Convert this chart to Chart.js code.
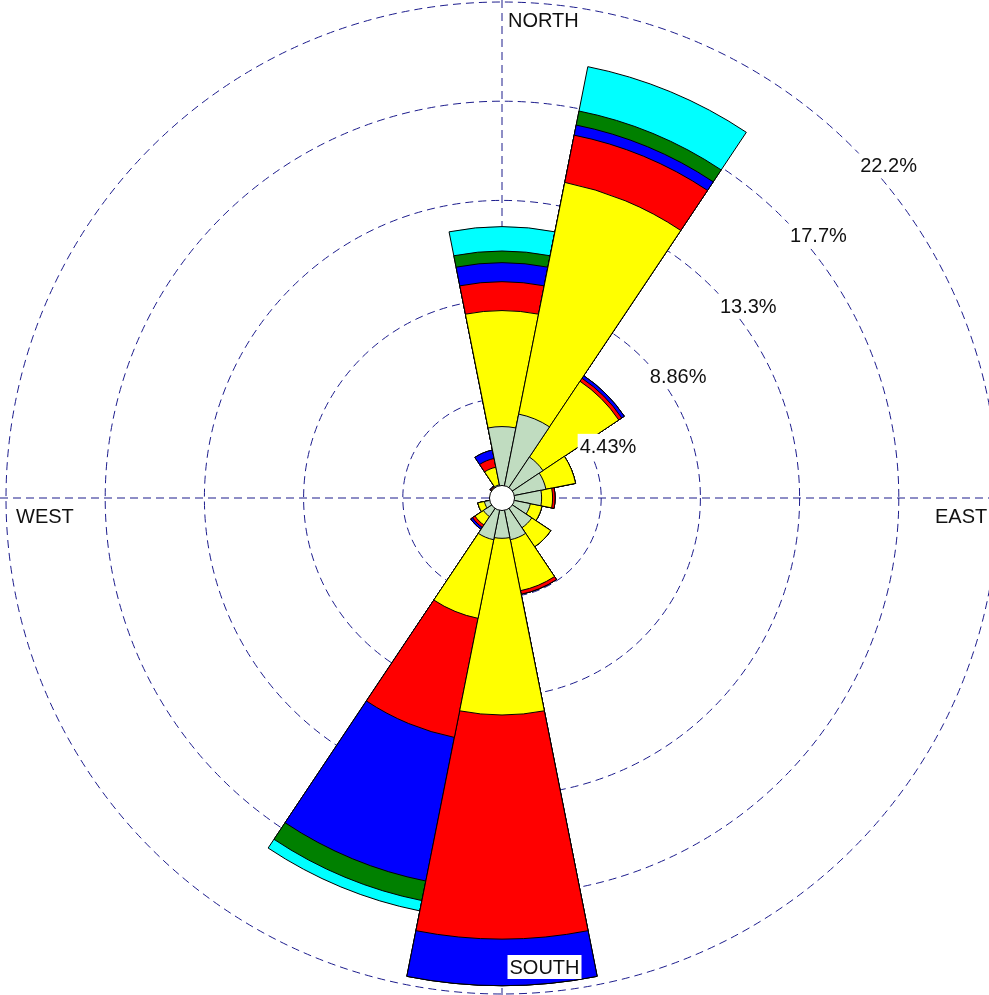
<!DOCTYPE html>
<html>
<head>
<meta charset="utf-8">
<title>Wind rose</title>
<script src="https://cdn.jsdelivr.net/npm/chart.js@4.4.1/dist/chart.umd.min.js"></script>
<style>
  html, body { margin: 0; padding: 0; background: #fff; overflow: hidden; }
  #wrap { position: relative; width: 1004px; height: 996px; }
</style>
</head>
<body>
<div id="wrap"><canvas id="roseChart" width="1004" height="996"></canvas></div>
<script>
// Directions, clockwise from north
const directions = ['N', 'NNE', 'NE', 'ENE', 'E', 'ESE', 'SE', 'SSE',
                    'S', 'SSW', 'SW', 'WSW', 'W', 'WNW', 'NW', 'NNW'];

// Frequency (%) of each speed class per direction (not cumulative)
const speedClass1 = [3.19, 3.82, 2.20, 2.00, 1.77, 1.29, 1.60, 1.90, 1.80, 1.90, 1.00, 0.80, 0.40, 0.40, 0.50, 0.60];
const speedClass2 = [5.18, 10.55, 4.07, 1.35, 0.49, 0.53, 1.02, 2.32, 7.89, 3.58, 0.45, 0.30, 0.05, 0.10, 0.08, 0.80];
const speedClass3 = [1.29, 2.15, 0.16, 0, 0.11, 0, 0, 0.16, 10.01, 5.42, 0.13, 0, 0, 0, 0.04, 0.40];
const speedClass4 = [0.85, 0.46, 0.14, 0, 0, 0, 0, 0, 2.08, 6.54, 0.10, 0, 0, 0, 0.03, 0.38];
const speedClass5 = [0.52, 0.64, 0, 0, 0, 0, 0, 0, 0, 0.89, 0, 0, 0, 0, 0, 0];
const speedClass6 = [1.09, 2.02, 0, 0, 0, 0, 0, 0, 0, 0.47, 0, 0, 0, 0, 0, 0];

const speedClasses = ['Class 1', 'Class 2', 'Class 3', 'Class 4', 'Class 5', 'Class 6'];
const classColors = ['#c0dcc0', '#ffff00', '#ff0000', '#0000ff', '#008000', '#00ffff'];

// Rings and their labels
const ringValues = [0, 4.43, 8.86, 13.29, 17.72, 22.15];
const ringLabels = ['', '4.43%', '8.86%', '13.3%', '17.7%', '22.2%'];
const calmValue = 0.56;

const gridColor = '#1c1c8c';
const labelFont = '20px "Liberation Sans", Arial, sans-serif';

// Stack the classes: each dataset is the running total, drawn from center
function buildDatasets() {
    const series = [speedClass1, speedClass2, speedClass3, speedClass4, speedClass5, speedClass6];
    const running = directions.map(() => 0);
    return series.map((values, k) => {
        const cumulative = values.map((v, i) => {
            running[i] += v;
            return +running[i].toFixed(3);
        });
        return {
            label: speedClasses[k],
            data: cumulative,
            backgroundColor: classColors[k],
            borderColor: '#000000',
            borderWidth: 1
        };
    });
}

// Dashed compass cross behind the petals
const crossPlugin = {
    id: 'compassCross',
    beforeDatasetsDraw(chart) {
        const r = chart.scales.r;
        const ctx = chart.ctx;
        ctx.save();
        ctx.strokeStyle = gridColor;
        ctx.lineWidth = 1;
        ctx.setLineDash([8, 5]);
        ctx.beginPath();
        ctx.moveTo(r.xCenter, 0);
        ctx.lineTo(r.xCenter, chart.height);
        ctx.moveTo(0, r.yCenter);
        ctx.lineTo(chart.width, r.yCenter);
        ctx.stroke();
        ctx.restore();
    }
};

// Calm circle, ring labels and compass labels on top
const labelPlugin = {
    id: 'roseLabels',
    afterDatasetsDraw(chart) {
        const r = chart.scales.r;
        const ctx = chart.ctx;
        const cx = r.xCenter, cy = r.yCenter;
        ctx.save();

        ctx.beginPath();
        ctx.arc(cx, cy, r.getDistanceFromCenterForValue(calmValue), 0, Math.PI * 2);
        ctx.fillStyle = '#ffffff';
        ctx.fill();
        ctx.strokeStyle = '#000000';
        ctx.lineWidth = 1;
        ctx.stroke();

        ctx.font = labelFont;
        ctx.textBaseline = 'alphabetic';
        ctx.textAlign = 'left';
        const boxed = (text, x, y) => {
            const w = ctx.measureText(text).width;
            ctx.fillStyle = '#ffffff';
            ctx.fillRect(x - 2, y - 19, w + 4, 24);
            ctx.fillStyle = '#111111';
            ctx.fillText(text, x, y);
        };

        ringValues.forEach((v, i) => {
            if (!ringLabels[i]) return;
            const d = r.getDistanceFromCenterForValue(v) * Math.SQRT1_2;
            boxed(ringLabels[i], cx + d + 7.5, cy - d + 25);
        });

        boxed('NORTH', cx + 6, cy - 471);
        boxed('SOUTH', cx + 7.5, cy + 476);
        boxed('EAST', cx + 433, cy + 25);
        boxed('WEST', cx - 486, cy + 25);
        ctx.restore();
    }
};

new Chart(document.getElementById('roseChart'), {
    type: 'polarArea',
    data: {
        labels: directions,
        datasets: buildDatasets()
    },
    options: {
        responsive: false,
        animation: false,
        layout: { padding: 2 },
        plugins: {
            legend: { display: false },
            tooltip: { enabled: false }
        },
        scales: {
            r: {
                min: 0,
                max: 22.15,
                startAngle: -11.25,
                afterBuildTicks: (scale) => {
                    scale.ticks = ringValues.map(v => ({ value: v }));
                },
                ticks: { display: false },
                pointLabels: { display: false },
                angleLines: { display: false },
                grid: { circular: true, color: gridColor, lineWidth: 1 },
                border: { dash: [8, 5] }
            }
        }
    },
    plugins: [crossPlugin, labelPlugin]
});
</script>
</body>
</html>
